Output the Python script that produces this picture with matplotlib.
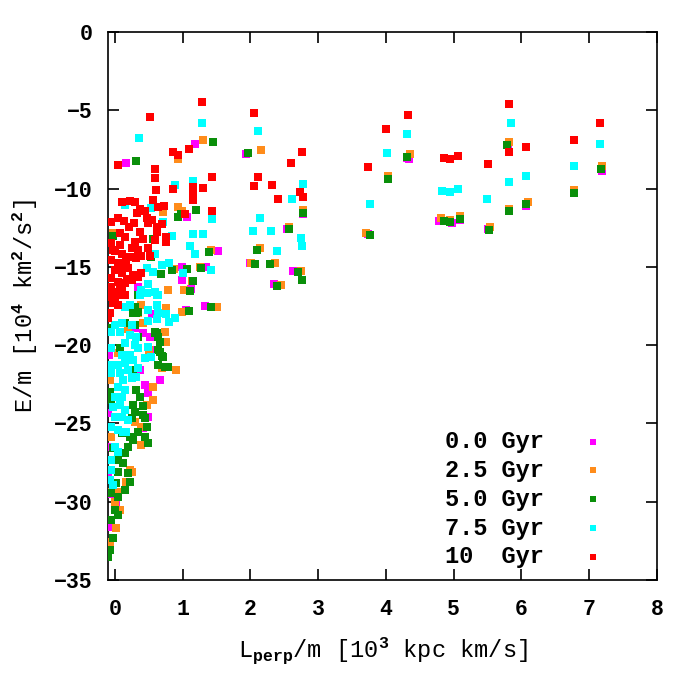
import matplotlib
matplotlib.use('Agg')
import matplotlib.pyplot as plt

# ── Data ───────────────────────────────────────────────────────────────
# L_perp/m in 1e3 kpc km/s, E/m in 1e4 km^2/s^2
x_00 = [4.34, 7.19, 6.07, 2.77, 4.79, 4.98, 5.50, 3.74, 6.77, 5.80, 5.10, 4.31,
        1.19, 0.17, 1.93, 1.07, 1.52, 2.63, 0.99, 0.99, 1.13, 1.35, 1.33, 1.05,
        2.35, 2.54, 2.00, 0.34, 0.42, 0.52, 0.37, 0.66, 0.44, 0.49, 0.49, 0.42,
        -0.10, -0.10, 0.22, -0.10, -0.05, -0.08, 0.55, 0.30, 0.02, -0.06, 0.62]
y_00 = [-8.13, -8.86, -11.13, -11.60, -12.09, -12.22, -12.60, -12.92, -10.25, -7.20, -12.00, -8.05,
        -7.17, -8.37, -7.81, -11.84, -14.00, -15.26, -15.03, -15.86, -16.43, -15.03, -17.52, -17.78,
        -16.11, -12.60, -14.75, -16.27, -19.24, -19.46, -21.59, -22.23, -22.55, -23.08, -24.57, -25.31,
        -24.35, -28.19, -27.97, -31.60, -26.49, -20.60, -18.00, -18.90, -30.20, -29.50, -20.30]

x_25 = [5.82, 4.36, 7.19, 4.03, 6.77, 6.10, 5.81, 2.77, 4.82, 4.95, 5.10, 5.54, 3.71, 2.75,
        1.30, 0.93, 2.16, 0.93, 0.71, 0.99, 2.57, 1.42, 2.14, 2.01, 2.37, 0.88, 1.26, 1.14,
        0.79, 1.02, 1.51, 0.99, 2.45, -0.02,
        0.39, 0.34, 0.76, 0.42, 0.74, 0.76, 0.69, 0.91, -0.07, -0.05, 0.57, 0.57, 0.47, 0.30,
        0.39, 0.44, -0.05, 0.39, 0.25, 0.17, 0.05, 0.00, 0.07, 0.02, -0.07, -0.07, -0.10,
        0.22, 0.05, 0.20, 0.50]
y_25 = [-7.05, -7.81, -8.58, -9.22, -10.11, -10.88, -11.32, -11.39, -11.90, -12.00, -11.77, -12.47, -12.86, -15.28,
        -6.92, -8.13, -7.56, -11.20, -11.52, -11.45, -12.47, -13.92, -13.82, -14.77, -14.77, -15.16, -15.03, -15.92,
        -16.50, -16.50, -17.58, -17.90, -16.16, -12.86,
        -17.44, -17.97, -17.65, -18.61, -19.14, -19.78, -21.48, -21.59, -22.23, -23.29, -22.65, -23.50, -23.82, -24.89,
        -25.21, -25.85, -25.85, -26.38, -28.08, -28.72, -29.36, -30.00, -30.53, -31.70, -32.66, -29.40, -32.60,
        -28.00, -20.50, -19.00, -20.30]

x_50 = [5.79, 4.31, 7.18, 4.03, 6.78, 6.07, 5.82, 2.77, 4.85, 4.95, 5.10, 5.52, 3.77, 2.76, 2.71,
        1.45, 0.31, 1.97, 1.20, 0.93, 0.98, 2.57, 1.39, 2.10, 2.07, 2.29, 0.85, 0.68, 1.07, 1.11,
        1.27, 1.15, 1.42, 1.10, 2.40, -0.02, 0.57, 0.54,
        0.34, 0.42, 0.30, 0.32, 0.15, 0.59, 0.64, 0.66, 0.59, 0.66, 0.71, 0.64, 0.79, 0.07, 0.34,
        0.27, -0.07, -0.05, 0.32, 0.37, 0.27, 0.30, 0.42, 0.25, 0.44, 0.47, 0.34, 0.22, 0.10,
        0.44, 0.49, 0.27, 0.20, 0.15, 0.05, 0.12, 0.05, 0.20, 0.22, 0.15, 0.02, -0.05, 0.05,
        0.00, 0.05, -0.05, -0.02, -0.07, -0.10, 0.27, 0.34, 0.30, -0.07, 0.62, 0.64, 0.74,
        0.69, -0.02, 0.42]
y_50 = [-7.24, -8.00, -8.77, -9.41, -10.30, -11.00, -11.45, -11.58, -12.09, -12.15, -11.96, -12.67, -12.98, -15.85, -15.35,
        -7.05, -8.26, -7.73, -11.39, -11.80, -11.62, -12.60, -14.07, -13.94, -14.84, -14.84, -15.22, -15.48, -15.16, -16.56,
        -15.09, -15.90, -17.58, -17.84, -16.22, -13.03, -13.24, -14.39,
        -16.80, -16.69, -17.54, -17.97, -18.61, -19.14, -19.46, -19.78, -19.24, -20.42, -20.74, -21.27, -21.38, -20.20, -19.46,
        -21.59, -22.97, -23.50, -22.87, -23.29, -23.82, -24.25, -24.46, -24.67, -24.67, -25.21, -25.53, -25.85, -25.63,
        -25.85, -26.27, -26.06, -26.49, -26.91, -27.34, -27.55, -28.08, -28.19, -28.72, -29.25, -28.83, -29.46, -29.68,
        -30.53, -30.85, -31.17, -32.34, -33.08, -33.51, -17.97, -17.86, -18.70, -18.90, -19.24, -20.30, -21.38,
        -20.70, -26.60, -23.90]

x_75 = [5.84, 4.31, 7.16, 4.02, 6.78, 6.06, 5.82, 2.78, 4.83, 4.95, 5.07, 3.77, 5.49, 2.75, 2.76,
        1.28, 2.11, 0.36, 0.89, 1.16, 2.62, 0.54, 1.44, 2.14, 2.04, 2.31, 1.16, 1.30, 0.85, 1.11,
        1.19, 2.40, 0.59, 0.70, 0.80, 0.57, 1.01, 1.42, 0.49, 0.80, 0.89, 0.49, 0.71, 0.15, 0.47,
        0.39, 0.47, 0.64, 0.59, 0.62, 0.37, 0.15, 0.22, 0.49, 0.62, 0.64, 0.76, 0.00, 0.10, 0.25,
        0.62, -0.05, 0.07, 0.22, 0.32, -0.05, 0.15, 0.30, 0.34, 0.49, 0.10, 0.22, 0.27, 0.44,
        0.54, -0.07, 0.05, 0.15, 0.20, 0.34, -0.05, 0.07, 0.12, 0.25, 0.32, 0.05, 0.15, 0.00,
        0.10, -0.02, 0.07, 0.15, 0.00, 0.10, 0.20, -0.05, 0.05, 0.12, 0.17, 0.00, 0.05, -0.05,
        -0.05, -0.07, -0.02]
y_75 = [-5.83, -6.54, -7.17, -7.75, -8.58, -9.22, -9.60, -9.73, -10.18, -10.24, -10.05, -11.00, -10.69, -13.18, -13.69,
        -5.80, -6.30, -6.80, -9.79, -9.52, -10.69, -11.26, -11.96, -11.90, -12.73, -12.73, -12.92, -12.92, -13.05, -13.69,
        -14.20, -14.00, -14.20, -14.90, -14.77, -15.35, -15.41, -15.22, -16.11, -18.54, -18.29, -18.48, -12.11, -11.05, -15.09,
        -16.48, -16.69, -16.80, -16.59, -16.80, -16.80, -17.54, -17.44, -17.76, -17.44, -17.97, -18.01, -18.71, -18.61, -18.71,
        -18.35, -19.14, -19.14, -19.35, -19.46, -20.20, -19.88, -19.99, -20.20, -20.10, -20.63, -20.63, -20.95, -20.84,
        -20.74, -21.27, -21.27, -21.16, -21.59, -21.48, -21.80, -21.80, -22.23, -22.12, -22.02, -22.65, -22.87, -23.29,
        -23.29, -23.93, -23.82, -24.14, -24.57, -24.57, -24.78, -25.21, -25.42, -25.53, -25.53, -26.49, -26.81, -27.34,
        -27.97, -28.61, -28.93]

x_10 = [5.82, 4.33, 4.00, 7.16, 5.82, 6.07, 2.76, 4.85, 4.95, 5.07, 3.74, 5.51, 6.78, 2.73, 2.78,
        1.29, 0.52, 2.06, 1.10, 2.60, 1.44, 2.12, 2.06, 2.32, 1.16, 1.30, 1.16, 1.16, 2.41, 1.44, 1.04,
        0.05, 0.59, 0.59, 0.61, 0.86, 0.86, 0.93, 0.57, 0.64, 0.73, 0.11, 0.22, 0.30, 0.37, 0.44,
        0.33, -0.05, 0.05, 0.14, 0.21, 0.47, 0.49, 0.63, 0.70, 0.37, 0.07, 0.15, 0.30, 0.62, 0.59,
        0.76, 0.76, -0.05, -0.02, 0.07, 0.25, 0.34, 0.49, 0.22, 0.32, 0.39, 0.52, -0.05, 0.05,
        0.12, 0.17, 0.00, 0.10, 0.20, 0.27, 0.39, -0.05, 0.05, 0.15, 0.25, 0.34, -0.05, 0.02,
        0.12, 0.10, -0.07, -0.07, 0.05, 0.15, -0.02, 0.05, -0.07, -0.10, 0.00, 0.10, 0.18, 0.08,
        0.00, 0.28, 0.42, 0.55]
y_10 = [-4.62, -5.32, -6.21, -5.83, -7.68, -7.37, -7.68, -8.07, -8.13, -7.94, -8.64, -8.45, -6.92, -10.20, -10.56,
        -4.49, -5.45, -5.19, -7.49, -8.39, -9.28, -9.28, -9.86, -9.79, -9.92, -9.98, -10.41, -10.75, -10.69, -11.45, -11.64,
        -8.50, -8.77, -9.34, -10.10, -10.05, -7.64, -7.86, -10.73, -11.16, -11.11, -10.86, -10.78, -10.86, -11.29, -11.43,
        -11.54, -12.11, -11.90, -12.05, -12.48, -11.90, -12.22, -12.48, -12.26, -12.77, -12.86, -13.11, -13.43, -12.75, -13.29,
        -13.11, -13.39, -13.50, -13.92, -13.60, -13.82, -13.92, -13.82, -14.35, -14.45, -14.30, -14.30, -14.56, -14.77,
        -14.88, -14.56, -15.20, -15.41, -15.09, -15.52, -15.41, -15.73, -15.95, -16.05, -15.84, -15.63, -16.27, -16.59,
        -16.80, -16.37, -16.90, -16.69, -16.69, -16.80, -17.33, -17.44, -17.97, -18.29, -14.00, -14.20, -15.80, -16.10,
        -17.00, -12.20, -13.20, -12.00]

series = [
    (x_00, y_00, '#ff00ff', '0.0 Gyr'),
    (x_25, y_25, '#ff8c1a', '2.5 Gyr'),
    (x_50, y_50, '#0a8f0a', '5.0 Gyr'),
    (x_75, y_75, '#00ffff', '7.5 Gyr'),
    (x_10, y_10, '#ff0000', '10  Gyr'),
]

# ── Style: gnuplot-ish bold mono ───────────────────────────────────────
plt.rcParams['font.family'] = ['Liberation Mono', 'DejaVu Sans Mono']
plt.rcParams['font.weight'] = 'bold'
plt.rcParams['mathtext.fontset'] = 'custom'
plt.rcParams['mathtext.rm'] = 'Liberation Mono:bold'
plt.rcParams['mathtext.it'] = 'Liberation Mono:bold'
plt.rcParams['mathtext.bf'] = 'Liberation Mono:bold'

fig = plt.figure(figsize=(7, 7), dpi=100)
ax = fig.add_axes([108/700, 1 - 580/700, 549/700, 548/700])

for xs, ys, col, lab in series:
    ax.scatter(xs, ys, s=30, marker='s', color=col, linewidths=0, label=lab, zorder=3)

ax.set_xlim(-0.1, 8)
ax.set_ylim(-35, 0)
ax.set_xticks(range(0, 9))
ax.set_yticks(range(-35, 1, 5))
ax.tick_params(direction='in', length=8, width=1.2, top=True, right=True, labelsize=15.5)
ax.tick_params(axis='x', pad=14)
ax.tick_params(axis='y', pad=11)
for sp in ax.spines.values():
    sp.set_linewidth(1.2)

ax.set_xlabel(r'L$_{perp}$/m [10$^3$ kpc km/s]', fontsize=17, labelpad=11)
ax.set_ylabel(r'E/m [10$^4$ km$^2$/s$^2$]', fontsize=17, labelpad=10)

leg = ax.legend(loc='lower right', bbox_to_anchor=(0.935, -0.009), frameon=False,
                markerfirst=False, fontsize=17, handlelength=1.0, handletextpad=1.6,
                labelspacing=0.25, markerscale=0.75, borderaxespad=0.3)

plt.savefig('out.png', dpi=100)
plt.close()
